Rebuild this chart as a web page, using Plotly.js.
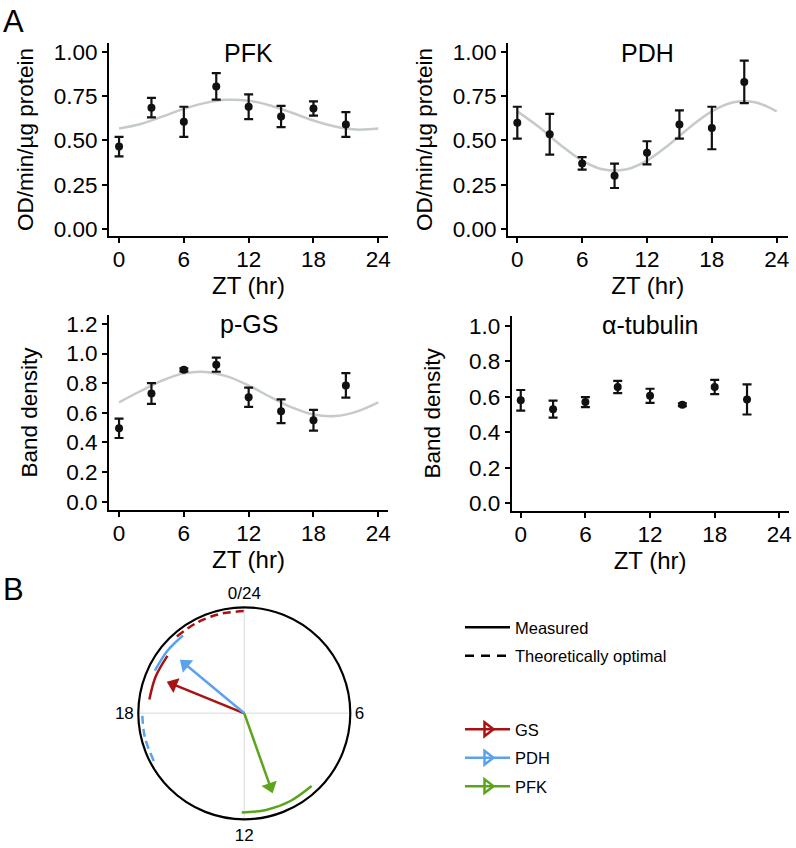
<!DOCTYPE html>
<html>
<head>
<meta charset="utf-8">
<script src="https://cdn.plot.ly/plotly-3.0.1.min.js"></script>
<style>
  html, body { margin: 0; padding: 0; background: #fff; }
  #chart { width: 796px; height: 848px; }
</style>
</head>
<body>
<div id="chart"></div>
<script>
// sampling times (ZT, hr)
const zt = [0, 3, 6, 9, 12, 15, 18, 21];

// mean +/- error
const pfkMean = [0.465, 0.685, 0.605, 0.805, 0.69, 0.635, 0.68, 0.59];
const pfkErr = [0.055, 0.055, 0.085, 0.075, 0.07, 0.06, 0.04, 0.07];
const pdhMean = [0.6, 0.535, 0.37, 0.3, 0.43, 0.59, 0.57, 0.83];
const pdhErr = [0.09, 0.115, 0.035, 0.069, 0.065, 0.08, 0.12, 0.12];
const pgsMean = [0.495, 0.73, 0.89, 0.925, 0.705, 0.61, 0.55, 0.785];
const pgsErr = [0.065, 0.07, 0.01, 0.048, 0.065, 0.08, 0.07, 0.083];
const tubMean = [0.58, 0.53, 0.57, 0.655, 0.605, 0.555, 0.655, 0.585];
const tubErr = [0.058, 0.048, 0.028, 0.035, 0.04, 0.008, 0.04, 0.085];

// cosinor fit curves, read every 2 hr
const fitZt = [0, 2, 4, 6, 8, 10, 12, 14, 16, 18, 20, 22, 24];
const pfkFit = [0.567, 0.593, 0.634, 0.678, 0.712, 0.729, 0.724, 0.697, 0.656, 0.612, 0.578, 0.561, 0.567];
const pdhFit = [0.664, 0.576, 0.474, 0.386, 0.335, 0.335, 0.386, 0.474, 0.576, 0.664, 0.715, 0.715, 0.664];
const pgsFit = [0.67, 0.747, 0.818, 0.866, 0.876, 0.846, 0.784, 0.707, 0.636, 0.588, 0.578, 0.608, 0.67];

// panel B: peak phases (hr) and arrow lengths
const phaseNames = ["GS", "PDH", "PFK"];
const phasePeak = [19.48, 20.65, 10.7];
const phaseLength = [0.79, 0.79, 0.8];

// phase ranges along the clock rim (hr)
const gsMeasuredHr = [18.55, 19.5, 20.45];
const gsOptimalHr = [21.25, 22.2, 23.1, 24];
const pdhMeasuredHr = [19.7, 20.6, 21.45];
const pdhOptimalHr = [16.15, 17.1, 18.1];
const pfkMeasuredHr = [9.15, 10.15, 11.15, 12.1];

const clockTicks = [0, 6, 12, 18];
const clockLabels = ["0/24", "6", "12", "18"];

const W = 796;
const H = 848;
const px = (a, b) => [a / W, b / W];
const py = (top, bottom) => [1 - bottom / H, 1 - top / H];
const toDeg = (h) => h * 15;

const FONT = "Liberation Sans, Arial, Helvetica, sans-serif";
const INK = "#111111";
const FIT_COLOR = "#c5cbc7";
const colors = { GS: "#a91212", PDH: "#5aa2ee", PFK: "#5ba51a" };

function panelTraces(mean, err, fit, xa, ya) {
  const traces = [];
  if (fit) {
    traces.push({
      x: fitZt, y: fit, xaxis: xa, yaxis: ya,
      mode: "lines",
      line: { color: FIT_COLOR, width: 2.5, shape: "spline" },
      hoverinfo: "skip", showlegend: false,
    });
  }
  traces.push({
    x: zt, y: mean, xaxis: xa, yaxis: ya,
    mode: "markers",
    marker: { color: INK, size: 8 },
    error_y: { type: "data", array: err, color: INK, thickness: 2.2, width: 4.5 },
    showlegend: false,
  });
  return traces;
}

const axisBase = {
  showline: true, linecolor: "#000", linewidth: 2,
  ticks: "outside", ticklen: 5, tickwidth: 2, tickcolor: "#000",
  showgrid: false, zeroline: false, fixedrange: true,
  tickfont: { size: 22.5, color: "#000" },
};

function xAxis(domain, range, anchor) {
  return {
    ...axisBase, domain, range, anchor,
    tickmode: "array", tickvals: [0, 6, 12, 18, 24],
    ticklabelstandoff: -3,
    title: { text: "ZT (hr)", font: { size: 24, color: "#000" }, standoff: 0 },
  };
}

function yAxis(domain, range, anchor, tickvals, fmt, title, standoff) {
  return {
    ...axisBase, domain, range, anchor,
    tickmode: "array", tickvals, tickformat: fmt,
    title: { text: title, font: { size: 22.5, color: "#000" }, standoff },
  };
}

function arcTrace(hours, r, color, dash) {
  return {
    type: "scatterpolar",
    r: hours.map(() => r), theta: hours.map(toDeg),
    mode: "lines",
    line: { color, width: 2.5, dash, shape: "spline" },
    hoverinfo: "skip", showlegend: false,
  };
}

function arrowTraces(i) {
  const color = colors[phaseNames[i]];
  const th = toDeg(phasePeak[i]);
  const head = phaseLength[i] - 0.066;
  return [
    {
      type: "scatterpolar", r: [0, head], theta: [th, th],
      mode: "lines", line: { color, width: 2.5 },
      hoverinfo: "skip", showlegend: false,
    },
    {
      type: "scatterpolar", r: [head], theta: [th],
      mode: "markers",
      marker: { symbol: "triangle-up", size: 14, color, angle: th },
      name: phaseNames[i], showlegend: false,
    },
  ];
}

const legendTraces = [
  { name: "Measured", dash: "solid", legend: "legend" },
  { name: "Theoretically optimal", dash: "9px,7px", legend: "legend" },
].map((d) => ({
  type: "scatterpolar", r: [null], theta: [null],
  mode: "lines", name: d.name, legend: d.legend, legendgroup: d.name,
  line: { color: "#000", width: 2.5, dash: d.dash },
}));

phaseNames.forEach((name) => {
  legendTraces.push({
    type: "scatterpolar", r: [null], theta: [null],
    mode: "lines+markers", name, legend: "legend2", legendgroup: name,
    line: { color: colors[name], width: 2.5 },
    marker: { symbol: "triangle-right-open", size: 12, color: colors[name], line: { width: 2.5, color: colors[name] } },
  });
});

const data = [
  ...panelTraces(pfkMean, pfkErr, pfkFit, "x", "y"),
  ...panelTraces(pdhMean, pdhErr, pdhFit, "x2", "y2"),
  ...panelTraces(pgsMean, pgsErr, pgsFit, "x3", "y3"),
  ...panelTraces(tubMean, tubErr, null, "x4", "y4"),
  arcTrace(gsMeasuredHr, 0.905, colors.GS, "solid"),
  arcTrace(gsOptimalHr, 0.965, colors.GS, "8px,5px"),
  arcTrace(pdhMeasuredHr, 0.935, colors.PDH, "solid"),
  arcTrace(pdhOptimalHr, 0.965, colors.PDH, "8px,5px"),
  arcTrace(pfkMeasuredHr, 0.935, colors.PFK, "solid"),
  ...arrowTraces(0),
  ...arrowTraces(1),
  ...arrowTraces(2),
  ...legendTraces,
];

function panelTitle(text, xref, yref, y) {
  return {
    text, xref, yref, x: 0.5, y, xanchor: "center", yanchor: "middle",
    showarrow: false, font: { size: 25, color: "#000" },
  };
}

const legendBase = {
  xanchor: "left", yanchor: "top",
  bgcolor: "rgba(0,0,0,0)", font: { size: 16.5, color: "#000" },
  traceorder: "grouped", tracegroupgap: 4, itemwidth: 45,
};

const layout = {
  width: W, height: H,
  margin: { l: 0, r: 0, t: 0, b: 0 },
  paper_bgcolor: "#fff", plot_bgcolor: "#fff",
  font: { family: FONT, color: "#000" },
  showlegend: true,
  xaxis: xAxis(px(109, 388), [-0.93, 24.9], "y"),
  yaxis: yAxis(py(43, 236), [-0.04, 1.05], "x", [0, 0.25, 0.5, 0.75, 1], ".2f", "OD/min/µg protein", 14),
  xaxis2: xAxis(px(508, 787.5), [-0.86, 25], "y2"),
  yaxis2: yAxis(py(43, 236), [-0.04, 1.05], "x2", [0, 0.25, 0.5, 0.75, 1], ".2f", "OD/min/µg protein", 14),
  xaxis3: xAxis(px(109, 388), [-0.93, 24.9], "y3"),
  yaxis3: yAxis(py(315, 510), [-0.056, 1.26], "x3", [0, 0.2, 0.4, 0.6, 0.8, 1, 1.2], ".1f", "Band density", 22),
  xaxis4: xAxis(px(511.7, 788.5), [-0.84, 24.85], "y4"),
  yaxis4: yAxis(py(316, 510.7), [-0.042, 1.055], "x4", [0, 0.2, 0.4, 0.6, 0.8, 1], ".1f", "Band density", 22),
  polar: {
    domain: { x: px(138.3, 350.3), y: py(607.3, 819.3) },
    bgcolor: "#fff",
    radialaxis: { visible: false, range: [0, 1] },
    angularaxis: {
      rotation: 90, direction: "clockwise",
      tickmode: "array", tickvals: clockTicks.map(toDeg), ticktext: clockLabels,
      ticks: "", showline: true, linecolor: "#000", linewidth: 2.2,
      showgrid: true, gridcolor: "#e6e6e6", gridwidth: 1.5,
      tickfont: { size: 17, color: "#000" },
    },
  },
  legend: { ...legendBase, x: 460 / W, y: 1 - 610 / H },
  legend2: { ...legendBase, x: 460 / W, y: 1 - 712 / H },
  annotations: [
    panelTitle("PFK", "x domain", "y domain", 0.95),
    panelTitle("PDH", "x2 domain", "y2 domain", 0.95),
    panelTitle("p-GS", "x3 domain", "y3 domain", 0.955),
    panelTitle("α-tubulin", "x4 domain", "y4 domain", 0.955),
    { text: "A", xref: "paper", yref: "paper", x: 1 / W, y: 1 - 2 / H, xanchor: "left", yanchor: "top", showarrow: false, font: { size: 31, color: "#000" } },
    { text: "B", xref: "paper", yref: "paper", x: 1 / W, y: 1 - 570 / H, xanchor: "left", yanchor: "top", showarrow: false, font: { size: 31, color: "#000" } },
  ],
};

Plotly.newPlot("chart", data, layout, { staticPlot: true });
</script>
</body>
</html>
